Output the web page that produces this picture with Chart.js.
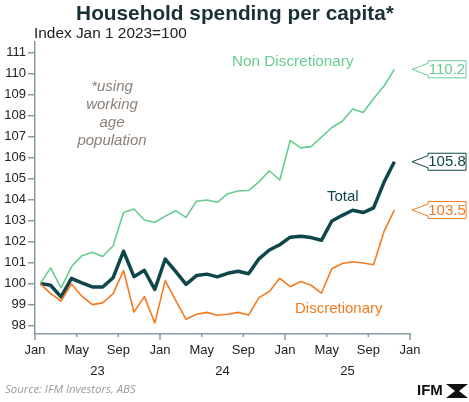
<!DOCTYPE html>
<html>
<head>
<meta charset="utf-8">
<script src="https://cdn.jsdelivr.net/npm/chart.js@4/dist/chart.umd.min.js"></script>
<style>
  html, body { margin: 0; padding: 0; background: #fff; }
  #wrap { width: 469px; height: 402px; position: relative; }
</style>
</head>
<body>
<div id="wrap"><canvas id="myChart"></canvas></div>
<script>
// monthly observations, Jan 2023 .. Nov 2025
const months = [
  'Jan 23','Feb 23','Mar 23','Apr 23','May 23','Jun 23','Jul 23','Aug 23','Sep 23','Oct 23','Nov 23','Dec 23',
  'Jan 24','Feb 24','Mar 24','Apr 24','May 24','Jun 24','Jul 24','Aug 24','Sep 24','Oct 24','Nov 24','Dec 24',
  'Jan 25','Feb 25','Mar 25','Apr 25','May 25','Jun 25','Jul 25','Aug 25','Sep 25','Oct 25','Nov 25'
];
const nonDiscretionary = [
  100, 100.75, 99.8, 100.8, 101.33, 101.49, 101.29, 101.8, 103.38, 103.55, 103.03, 102.91,
  103.21, 103.47, 103.15, 103.92, 103.98, 103.87, 104.28, 104.41, 104.43, 104.84, 105.37, 104.93,
  106.81, 106.46, 106.52, 106.97, 107.43, 107.73, 108.31, 108.14, 108.8, 109.4, 110.2
];
const total = [
  100, 99.92, 99.37, 100.25, 100.03, 99.84, 99.84, 100.28, 101.54, 100.33, 100.63, 99.72,
  101.17, 100.58, 99.96, 100.38, 100.45, 100.32, 100.49, 100.59, 100.47, 101.18, 101.6, 101.85,
  102.21, 102.25, 102.19, 102.06, 102.98, 103.25, 103.49, 103.38, 103.6, 104.82, 105.8
];
const discretionary = [
  100, 99.52, 99.17, 99.98, 99.4, 99.0, 99.08, 99.52, 100.62, 98.65, 99.38, 98.12,
  100.14, 99.2, 98.3, 98.54, 98.63, 98.49, 98.54, 98.63, 98.5, 99.33, 99.62, 100.25,
  99.85, 100.1, 99.92, 99.55, 100.71, 100.96, 101.04, 100.98, 100.9, 102.47, 103.5
];
const tickMonths = ['Jan', 'May', 'Sep'];
const yearLabels = ['23', '24', '25'];

const GREEN = '#68cc91';
const DARK = '#0f464b';
const ORANGE = '#f47b20';
const AXIS = '#8a9ba3';
const FONT = '"Liberation Sans", Arial, sans-serif';

// each month plotted at its middle (index + 0.5 on a month scale)
const toPoints = arr => arr.map((v, i) => ({ x: i + 0.5, y: v }));

const decorations = {
  id: 'decorations',
  afterDraw(chart) {
    const ctx = chart.ctx;
    const xs = chart.scales.x, ys = chart.scales.y;
    const area = chart.chartArea;
    ctx.save();

    // x tick marks, longer at January
    ctx.strokeStyle = AXIS;
    ctx.lineWidth = 1.5;
    for (let v = 0; v <= 36; v += 4) {
      const px = xs.getPixelForValue(v);
      const len = v % 12 === 0 ? 6 : 3;
      ctx.beginPath();
      ctx.moveTo(px, area.bottom);
      ctx.lineTo(px, area.bottom + len);
      ctx.stroke();
    }

    // title + subtitle
    ctx.fillStyle = '#1b2f36';
    ctx.font = 'bold 20.8px ' + FONT;
    ctx.textAlign = 'center';
    ctx.textBaseline = 'middle';
    ctx.fillText('Household spending per capita*', 235, 14);
    ctx.fillStyle = '#222';
    ctx.font = '15.4px ' + FONT;
    ctx.textAlign = 'left';
    ctx.fillText('Index Jan 1 2023=100', 34, 34);

    // footnote in the plot
    ctx.fillStyle = '#8b7f76';
    ctx.font = 'italic 15px ' + FONT;
    ctx.textAlign = 'center';
    ['*using', 'working', 'age', 'population'].forEach((t, i) => {
      ctx.fillText(t, 112, 87 + i * 17.8);
    });

    // series names
    ctx.textAlign = 'left';
    ctx.font = '15.3px ' + FONT;
    ctx.fillStyle = GREEN;
    ctx.fillText('Non Discretionary', 232, 62);
    ctx.font = '15px ' + FONT;
    ctx.fillStyle = DARK;
    ctx.fillText('Total', 327, 197);
    ctx.fillStyle = ORANGE;
    ctx.fillText('Discretionary', 295, 309);

    // end value callouts
    chart.data.datasets.forEach(ds => {
      const last = ds.data[ds.data.length - 1].y;
      const py = ys.getPixelForValue(last);
      const x0 = 428, x1 = 466, y0 = py - 8.5, y1 = py + 8.5;
      ctx.beginPath();
      ctx.moveTo(x0, y0);
      ctx.lineTo(x1, y0);
      ctx.lineTo(x1, y1);
      ctx.lineTo(x0, y1);
      ctx.lineTo(x0, py + 6);
      ctx.lineTo(412, py);
      ctx.lineTo(x0, py - 6);
      ctx.closePath();
      ctx.fillStyle = '#fff';
      ctx.fill();
      ctx.strokeStyle = ds.borderColor;
      ctx.lineWidth = 1;
      ctx.stroke();
      ctx.fillStyle = ds.borderColor;
      ctx.font = '15px ' + FONT;
      ctx.textAlign = 'center';
      ctx.fillText(last.toFixed(1), (x0 + x1) / 2, py + 0.5);
    });

    // source + logo
    ctx.textAlign = 'left';
    ctx.fillStyle = '#9a9a9a';
    ctx.font = 'italic 11.4px "Open Sans", ' + FONT;
    ctx.fillText('Source: IFM Investors, ABS', 5, 390);
    ctx.fillStyle = '#111';
    ctx.font = 'bold 15px ' + FONT;
    ctx.fillText('IFM', 417, 391);
    ctx.beginPath();
    ctx.moveTo(446, 384); ctx.lineTo(468, 384); ctx.lineTo(459, 391);
    ctx.lineTo(468, 398); ctx.lineTo(446, 398); ctx.lineTo(455, 391);
    ctx.closePath();
    ctx.fill();
    ctx.restore();
  }
};

const ctx = document.getElementById('myChart').getContext('2d');

const data = {
  datasets: [
    { label: 'Non Discretionary', data: toPoints(nonDiscretionary), borderColor: GREEN, borderWidth: 1.6 },
    { label: 'Discretionary', data: toPoints(discretionary), borderColor: ORANGE, borderWidth: 1.6 },
    { label: 'Total', data: toPoints(total), borderColor: DARK, borderWidth: 3.5 },
  ],
};

const config = {
  type: 'line',
  data: data,
  options: {
    responsive: true,
    maintainAspectRatio: false,
    animation: false,
    layout: { padding: { top: 42, right: 59, bottom: 24, left: 0 } },
    plugins: { legend: { display: false }, tooltip: { enabled: false } },
    elements: {
      point: { radius: 0 },
      line: { tension: 0, borderJoinStyle: 'round', fill: false },
    },
    scales: {
      x: {
        type: 'linear', min: 0, max: 36, position: 'bottom',
        border: { color: AXIS, width: 1.5 },
        grid: { drawOnChartArea: false, drawTicks: false },
        ticks: {
          stepSize: 4, padding: 9, color: '#222', font: { family: FONT, size: 13 },
          maxRotation: 0, autoSkip: false,
          callback: v => tickMonths[(v / 4) % 3],
        },
        afterFit: s => { s.height = 27; },
      },
      year: {
        type: 'linear', min: 0, max: 36, position: 'bottom',
        border: { display: false },
        grid: { display: false, drawTicks: false },
        afterBuildTicks: s => { s.ticks = yearLabels.map((y, i) => ({ value: 6 + 12 * i })); },
        ticks: {
          padding: 3, color: '#222', font: { family: FONT, size: 13 },
          maxRotation: 0, autoSkip: false,
          callback: (v, i) => yearLabels[i],
        },
        afterFit: s => { s.height = 17; },
      },
      y: {
        min: 97.6, max: 111.5,
        border: { color: AXIS, width: 1.5 },
        grid: { drawOnChartArea: false, tickLength: 7, color: AXIS, lineWidth: 1.5 },
        ticks: {
          stepSize: 1, includeBounds: false, padding: 2, color: '#222',
          font: { family: FONT, size: 13 }, autoSkip: false,
        },
        afterFit: s => { s.width = 35; },
      },
    },
  },
  plugins: [decorations],
};

let chartStatus = Chart.getChart('myChart');
if (chartStatus != undefined) {
  chartStatus.destroy();
}
const myChart = new Chart(ctx, config);
</script>
</body>
</html>
